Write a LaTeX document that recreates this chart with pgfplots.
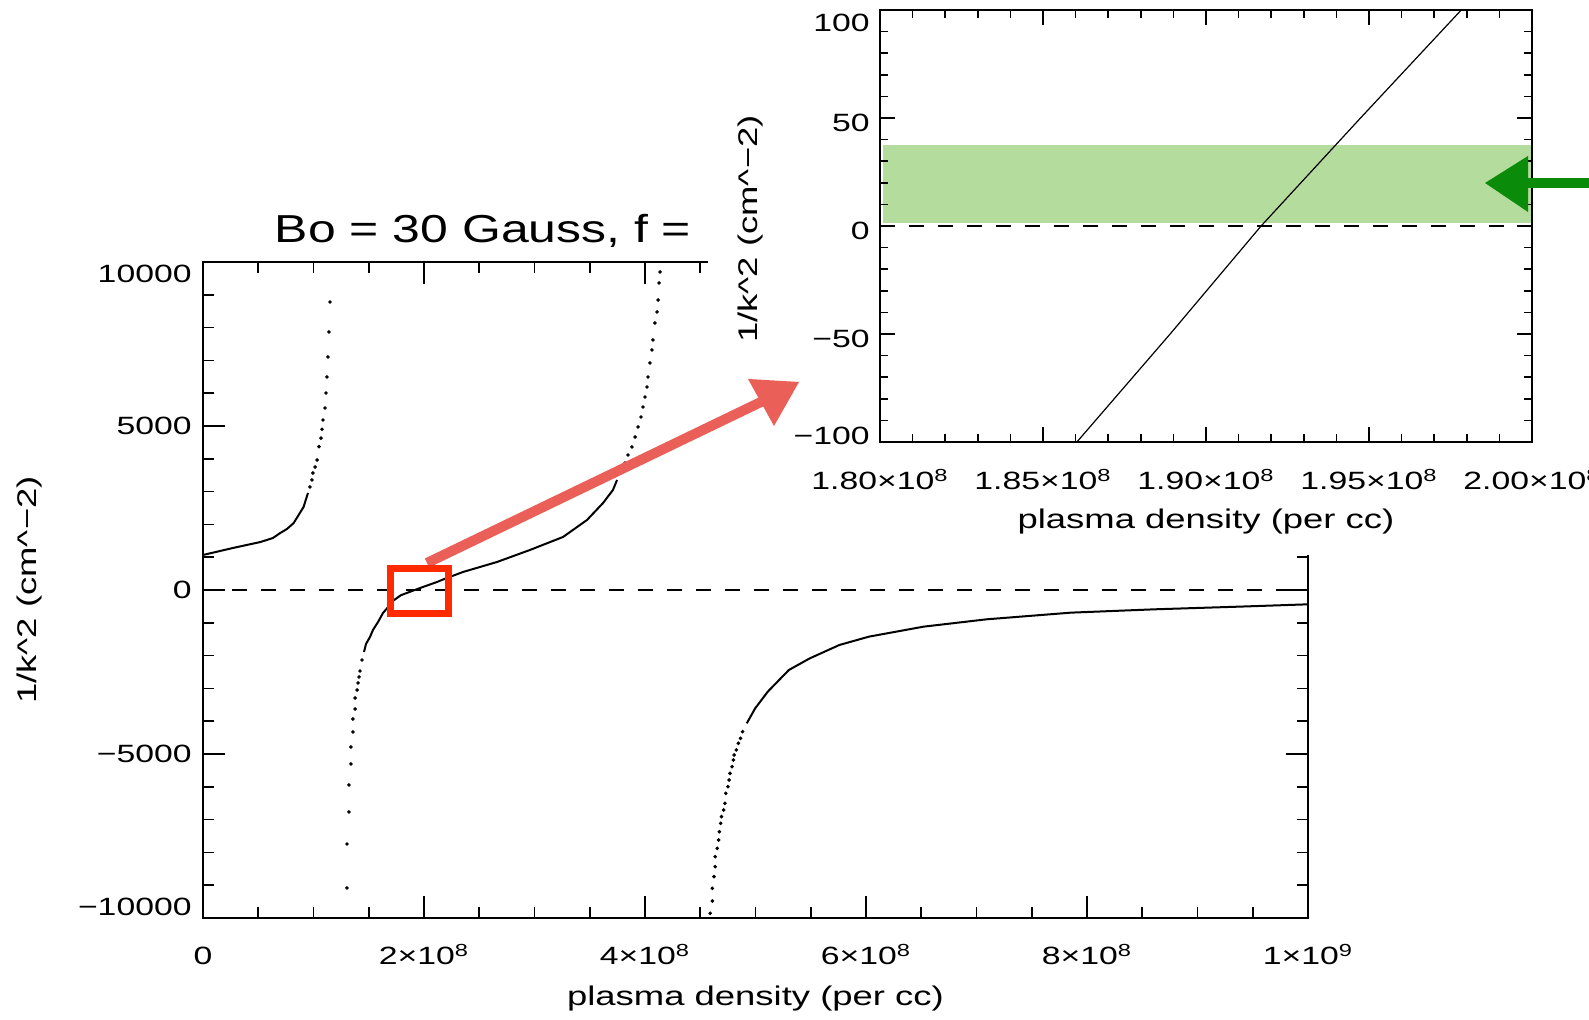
\documentclass[border=0pt]{standalone}
\usepackage{pgfplots}
\pgfplotsset{compat=1.18}
\usepackage{fontspec}
\setmainfont{Liberation Sans}
\newfontfamily\idl[FakeStretch=1.35]{Liberation Sans}
\newfontfamily\ttl[FakeStretch=1.28]{Liberation Sans}
\newcommand\idlfont{\idl\fontsize{12.5}{14}\selectfont}
\newcommand\idllab{\idl\fontsize{13.5}{15}\selectfont}
% shift a tick label up or down without changing its box
\newcommand\sh[2]{\raisebox{#1}[9pt][0pt]{#2}}
\definecolor{bandgreen}{HTML}{B4DC9C}
\definecolor{arrowgreen}{HTML}{0A8C0A}
\definecolor{boxred}{HTML}{FF2A00}
\definecolor{arrowred}{HTML}{EA5F57}

\pgfplotsset{
  idlaxis/.style={
    scale only axis, anchor=south west,
    tick align=inside,
    axis line style={line width=1pt},
    every tick/.style={black, line width=0.8pt},
    tick label style={font=\idlfont},
    scaled x ticks=false, scaled y ticks=false,
  },
  curve/.style={black, line width=1pt},
  dots/.style={black, only marks, mark=*, mark size=0.7pt},
}

\begin{document}
\begin{tikzpicture}
\useasboundingbox (0,0) rectangle (794.5pt,510pt);

% main plot
\begin{axis}[idlaxis,
  at={(101.5pt,51pt)}, width=552.5pt, height=328pt,
  xmin=0, xmax=1e9, ymin=-10000, ymax=10000,
  xtick={0,2e8,4e8,6e8,8e8,1e9},
  xticklabels={0,2×10\textsuperscript{8},4×10\textsuperscript{8},6×10\textsuperscript{8},8×10\textsuperscript{8},1×10\textsuperscript{9}},
  minor x tick num=3,
  ytick={-10000,-5000,0,5000,10000},
  yticklabels={\sh{5.5pt}{−10000},−5000,0,5000,\sh{-6pt}{10000}},
  minor y tick num=4,
  major tick length=11pt, minor tick length=5.5pt,
  xticklabel style={anchor=base, inner sep=0pt, yshift=-23.5pt},
  yticklabel style={anchor=east, inner sep=0pt, xshift=-5.5pt},
  every axis x label/.style={at={(axis description cs:0.5,-0.122)}, anchor=center, font=\idllab},
  every axis y label/.style={at={(axis description cs:-0.1566,0.5)}, rotate=90, anchor=center, font=\idllab},
  xlabel={plasma density (per cc)},
  ylabel={1/k\textasciicircum2 (cm\textasciicircum−2)},
]
\addplot[black, line width=1pt, dash pattern=on 7.5pt off 7pt] coordinates {(0,0) (1e9,0)};
% branch 1
\addplot[curve] coordinates {
  (0,1067) (2.7e7,1280) (5.2e7,1463) (6.33e7,1585) (7.0e7,1740) (7.6e7,1860)
  (8.2e7,2040) (8.6e7,2256) (9.1e7,2530) (9.5e7,2957)
};
\addplot[dots] coordinates {
  (9.68e7,3140) (9.86e7,3354) (9.95e7,3567) (1.014e8,3750) (1.032e8,3963)
  (1.050e8,4370) (1.068e8,4630) (1.077e8,4900) (1.086e8,5183) (1.104e8,5549)
  (1.113e8,6006) (1.122e8,6494) (1.131e8,7104) (1.140e8,7866) (1.149e8,8780)
};
% branch 2
\addplot[dots] coordinates {
  (1.303e8,-9085) (1.303e8,-7744) (1.321e8,-6768) (1.321e8,-5945) (1.339e8,-5305)
  (1.339e8,-4787) (1.357e8,-4329) (1.357e8,-3933) (1.376e8,-3628) (1.376e8,-3293)
  (1.394e8,-3049) (1.403e8,-2835) (1.412e8,-2652) (1.421e8,-2470) (1.439e8,-2134)
};
\addplot[curve] coordinates {
  (1.457e8,-1890) (1.475e8,-1646) (1.511e8,-1433) (1.538e8,-1220) (1.584e8,-976)
  (1.629e8,-701) (1.665e8,-560) (1.72e8,-330) (1.79e8,-160) (1.917e8,0)
  (1.99e8,91) (2.118e8,244) (2.18e8,330) (2.353e8,549) (2.661e8,854)
  (2.959e8,1220) (3.258e8,1616) (3.475e8,2134) (3.62e8,2650) (3.71e8,3050) (3.747e8,3354)
};
\addplot[dots] coordinates {
  (3.774e8,3567) (3.819e8,3872) (3.846e8,4116) (3.882e8,4360) (3.910e8,4665)
  (3.937e8,4970) (3.964e8,5274) (3.982e8,5579) (4.000e8,5884) (4.018e8,6189)
  (4.027e8,6494) (4.045e8,6921) (4.063e8,7317) (4.072e8,7622) (4.090e8,8140)
  (4.109e8,8476) (4.118e8,8841) (4.127e8,9360) (4.136e8,9695)
};
% branch 3
\addplot[dots] coordinates {
  (4.590e8,-9857) (4.609e8,-9482) (4.609e8,-9095) (4.624e8,-8740) (4.635e8,-8435)
  (4.635e8,-8130) (4.654e8,-7876) (4.666e8,-7622) (4.673e8,-7368) (4.685e8,-7114)
  (4.692e8,-6911) (4.712e8,-6707) (4.723e8,-6504) (4.731e8,-6199) (4.750e8,-5996)
  (4.761e8,-5793) (4.769e8,-5589) (4.788e8,-5386) (4.799e8,-5183) (4.807e8,-5030)
  (4.826e8,-4878) (4.845e8,-4675) (4.864e8,-4522) (4.883e8,-4319)
};
\addplot[curve] coordinates {
  (4.921e8,-4065) (4.997e8,-3608) (5.111e8,-3100) (5.302e8,-2439) (5.492e8,-2083)
  (5.759e8,-1677) (6.026e8,-1423) (6.521e8,-1118) (7.092e8,-894) (7.854e8,-691)
  (8.615e8,-589) (9.377e8,-508) (1e9,-437)
};
\end{axis}

\begin{scope}[x=0.5pt,y=0.5pt]
\fill[white] (708,465) rectangle (1589,1020);
\node[font=\ttl\fontsize{19.5}{22}\selectfont, anchor=base] at (483,777) {Bo = 30 Gauss, f =};
\end{scope}

% zoomed inset
\begin{axis}[idlaxis, axis on top,
  at={(440pt,289pt)}, width=326pt, height=216pt,
  xmin=1.8e8, xmax=2e8, ymin=-100, ymax=100,
  xtick={1.8e8,1.85e8,1.9e8,1.95e8,2e8},
  xticklabels={1.80×10\textsuperscript{8},1.85×10\textsuperscript{8},1.90×10\textsuperscript{8},1.95×10\textsuperscript{8},2.00×10\textsuperscript{8}},
  minor x tick num=4,
  ytick={-100,-50,0,50,100},
  yticklabels={\sh{3pt}{−100},\sh{-2.5pt}{−50},\sh{-2.5pt}{0},\sh{-2.5pt}{50},\sh{-6.5pt}{100}},
  minor y tick num=4,
  major tick length=7.5pt, minor tick length=4pt,
  xticklabel style={anchor=base, inner sep=0pt, yshift=-24pt},
  yticklabel style={anchor=east, inner sep=0pt, xshift=-5pt},
  every axis x label/.style={at={(axis description cs:0.5,-0.183)}, anchor=center, font=\idllab},
  every axis y label/.style={at={(axis description cs:-0.198,0.493)}, rotate=90, anchor=center, font=\idllab},
  xlabel={plasma density (per cc)},
  ylabel={1/k\textasciicircum2 (cm\textasciicircum−2)},
]
\addplot[draw=none, fill=bandgreen] coordinates {(1.801e8,1.2) (2e8,1.2) (2e8,37.3) (1.801e8,37.3)} -- cycle;
\addplot[black, line width=1pt, dash pattern=on 7.5pt off 7pt] coordinates {(1.8e8,0) (2e8,0)};
\addplot[black, line width=0.6pt] coordinates {
  (1.8604e8,-100) (1.889e8,-50) (1.9169e8,0) (1.9474e8,50) (1.9783e8,100)
};
\end{axis}

% annotations
\begin{scope}[x=0.5pt,y=0.5pt]
\draw[arrowred, line width=5pt] (427,457) -- (763,619);
\fill[arrowred] (799,638) -- (748,641) -- (774,594) -- cycle;
\draw[boxred, line width=3.5pt] (390.5,451.5) rectangle (448.5,406.5);
\draw[arrowgreen, line width=5pt] (1589,837) -- (1522,837);
\fill[arrowgreen] (1485,837) -- (1528,864) -- (1528,808) -- cycle;
\end{scope}
\end{tikzpicture}
\end{document}
